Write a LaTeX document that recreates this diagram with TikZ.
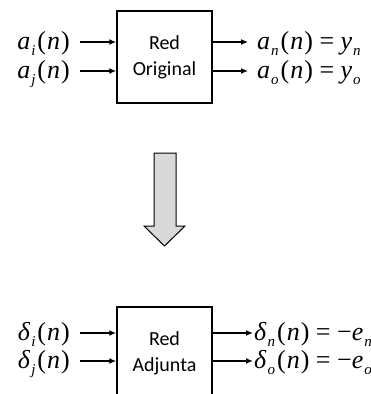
\documentclass[tikz,border=0pt]{standalone}
\usepackage{fontspec}
\setmainfont{Liberation Serif}
\newfontfamily\boxfont{Carlito}
\usetikzlibrary{arrows.meta}
% italic symbol with a lowered italic index
\newcommand\sym[2]{\textit{#1}\kern1pt\raisebox{-6pt}{\fontsize{15}{15}\selectfont\textit{#2}}\kern2pt}
\newcommand\ofn{(\kern1pt\textit{n}\kern1pt)}

\begin{document}
\begin{tikzpicture}[x=1pt,y=-1pt]
\tikzstyle{every node}+=[inner sep=0pt]
\tikzstyle{net}=[draw,line width=1.5pt,minimum width=95pt,minimum height=92pt,align=center,font=\boxfont\fontsize{20}{26}\selectfont]
\tikzstyle{sig}=[font=\fontsize{26}{30}\selectfont]
\tikzstyle{flow}=[line width=1.5pt,-{Latex[length=7pt,width=6pt]}]
\useasboundingbox (0,0) rectangle (371,394);
\clip (0,0) rectangle (371,394);
% forward network
\node[net] (orig) at (164.5,57) {Red\\Original};
\coordinate (i1) at (80,42);
\coordinate (i2) at (80,71);
\coordinate (o1) at (248,42);
\coordinate (o2) at (248,71);
\node[sig,anchor=base east] (ai) at (70,49) {\sym{a}{i}\ofn};
\node[sig,anchor=base east] (aj) at (70,78) {\sym{a}{j}\ofn};
\node[sig,anchor=base west] (an) at (257,49) {\sym{a}{n}\ofn{} = \sym{y}{n}};
\node[sig,anchor=base west] (ao) at (257,78) {\sym{a}{o}\ofn{} = \sym{y}{o}};
\draw[flow] (i1) -- (i1 -| orig.west);
\draw[flow] (i2) -- (i2 -| orig.west);
\draw[flow] (o1 -| orig.east) -- (o1);
\draw[flow] (o2 -| orig.east) -- (o2);
% block arrow between the two networks
\draw[line width=1pt,fill=gray!30] (154,153) -- (176,153) -- (176,226) -- (185,226)
  -- (164.5,246) -- (144,226) -- (154,226) -- cycle;
% adjoint network
\node[net] (adj) at (164.5,353) {Red\\Adjunta};
\coordinate (j1) at (80,333);
\coordinate (j2) at (80,361);
\coordinate (p1) at (253,333);
\coordinate (p2) at (253,361);
\node[sig,anchor=base east] (di) at (70,340) {\sym{δ}{i}\ofn};
\node[sig,anchor=base east] (dj) at (70,368) {\sym{δ}{j}\ofn};
\node[sig,anchor=base west] (dn) at (254,340) {\sym{δ}{n}\ofn{} = −\sym{e}{n}};
\node[sig,anchor=base west] (do) at (254,368) {\sym{δ}{o}\ofn{} = −\sym{e}{o}};
\draw[flow] (j1) -- (j1 -| adj.west);
\draw[flow] (j2) -- (j2 -| adj.west);
\draw[flow] (p1 -| adj.east) -- (p1);
\draw[flow] (p2 -| adj.east) -- (p2);
\end{tikzpicture}
\end{document}
